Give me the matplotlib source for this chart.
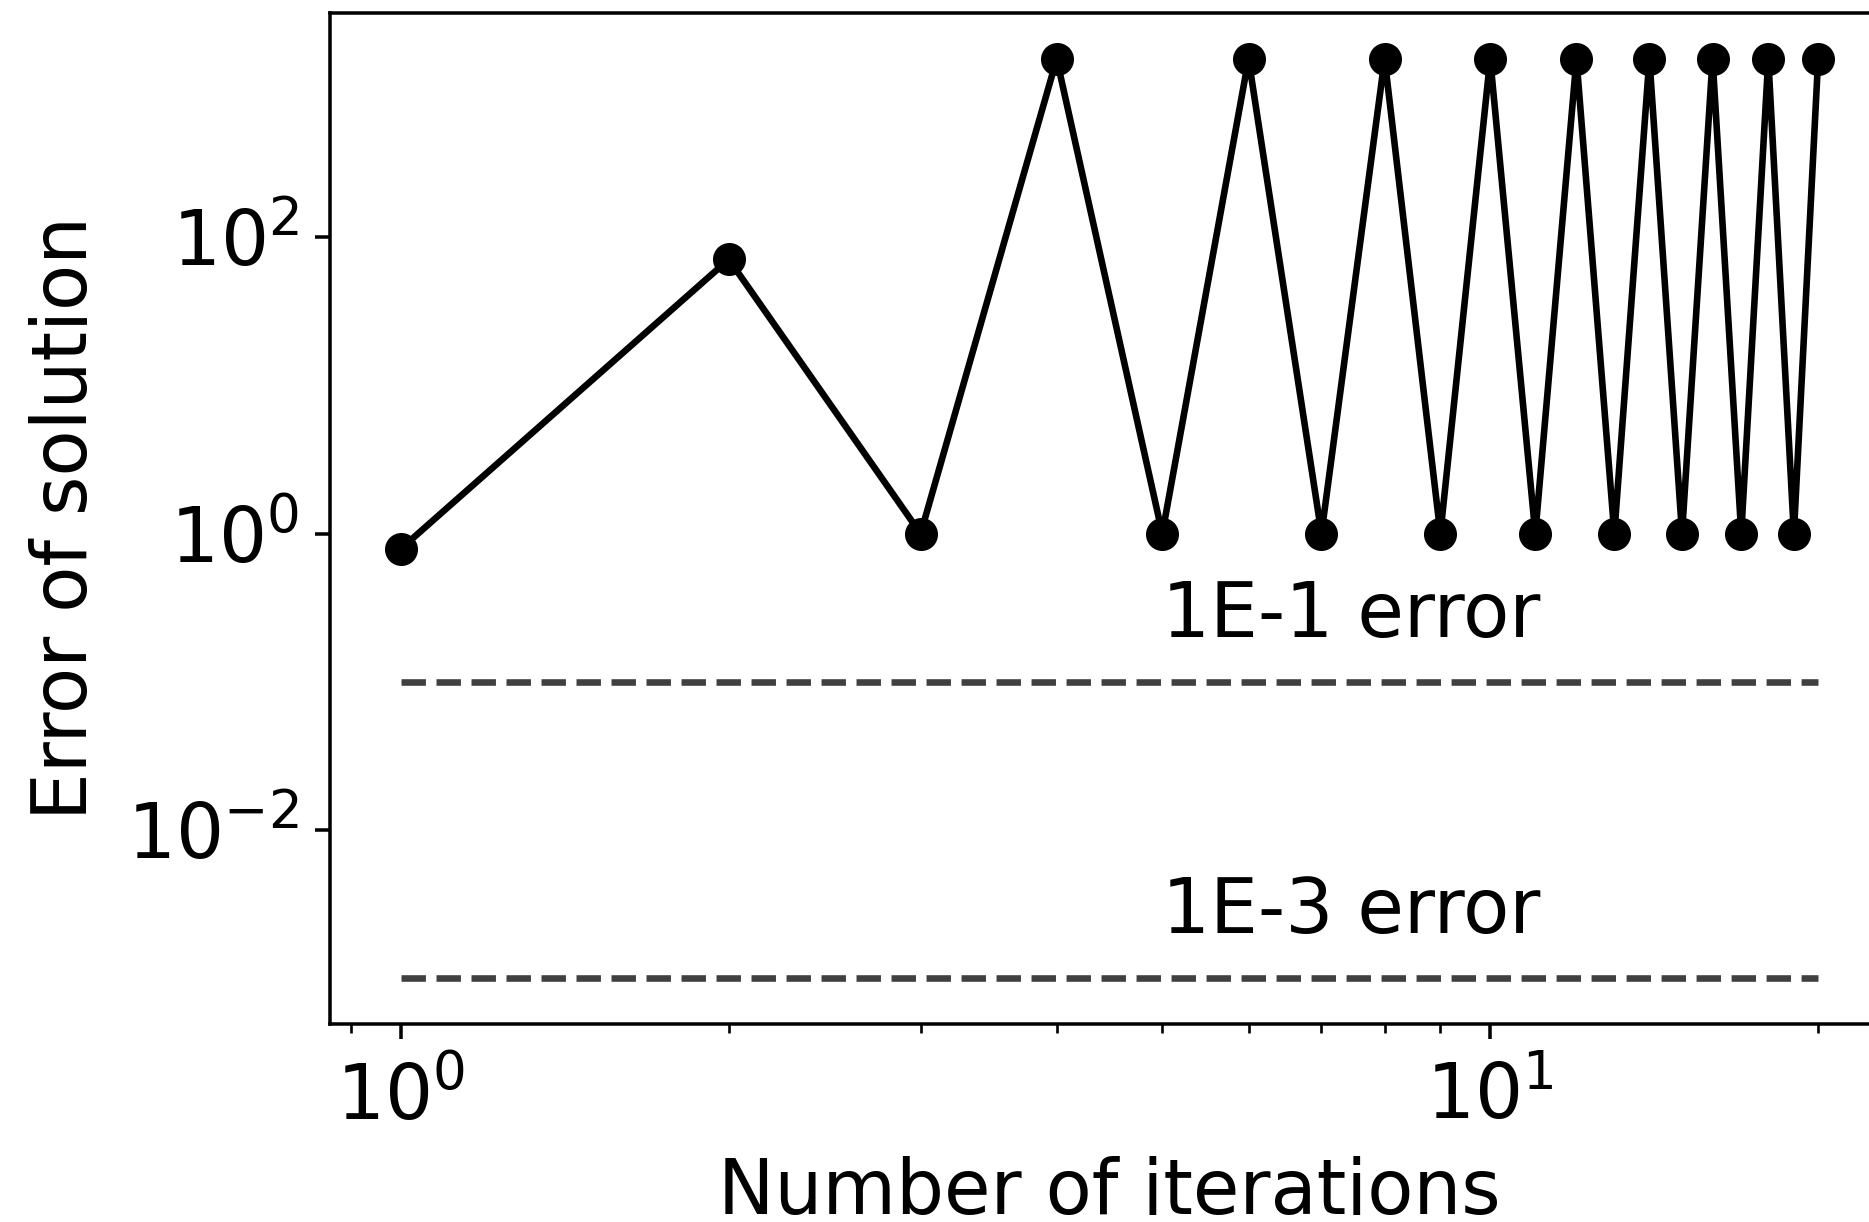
import matplotlib
matplotlib.use('Agg')
import matplotlib.pyplot as plt
from matplotlib.ticker import NullLocator

# iterations and the error at each one
iterations = list(range(1, 21))
errors = [0.79, 71, 1, 1600, 1, 1600, 1, 1600, 1, 1600,
          1, 1600, 1, 1600, 1, 1600, 1, 1600, 1, 1600]

# reference error levels and their labels
thresholds = [1e-1, 1e-3]
threshold_labels = ['1E-1 error', '1E-3 error']
label_x = 5

fs = 17.2
dpi = 317
fig = plt.figure(figsize=(1869 / dpi, 1222 / dpi), dpi=dpi)
# axes runs past the right edge like the (cropped) original
ax = fig.add_axes([330 / 1869, (1222 - 1024) / 1222, 1559 / 1869, 1011 / 1222])

ax.loglog(iterations, errors, 'o-', color='k', linewidth=1.5, markersize=6.5)

for t, lab in zip(thresholds, threshold_labels):
    ax.plot([iterations[0], iterations[-1]], [t, t], '--', color='k', alpha=0.75, linewidth=1.5)
    ax.text(label_x, 2 * t, lab, fontsize=fs, ha='left', va='baseline')

ax.set_yticks([1e-2, 1, 1e2])
ax.yaxis.set_minor_locator(NullLocator())
ax.tick_params(labelsize=fs)
ax.tick_params(axis='x', which='major', pad=5)

ax.set_xlabel('Number of iterations', fontsize=fs, labelpad=4.5)
ax.set_ylabel('Error of solution', fontsize=fs, labelpad=5.5)

fig.savefig('out.png', dpi=dpi)
